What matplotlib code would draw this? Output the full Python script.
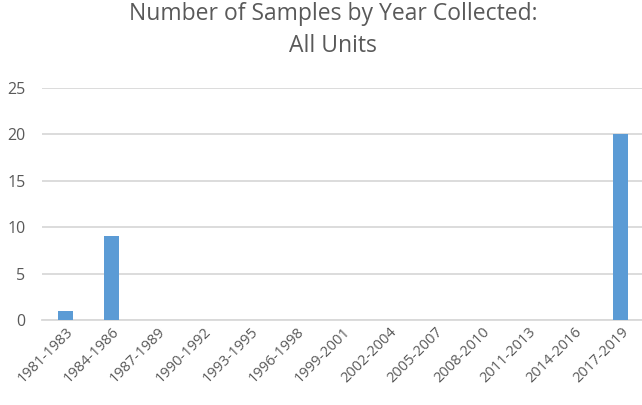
import numpy as np
import matplotlib.pyplot as plt

# sample counts per three-year collection window
periods = ["1981-1983", "1984-1986", "1987-1989", "1990-1992", "1993-1995",
           "1996-1998", "1999-2001", "2002-2004", "2005-2007", "2008-2010",
           "2011-2013", "2014-2016", "2017-2019"]
samples = [1, 9, 0, 0, 0, 0, 0, 0, 0, 0, 0, 0, 20]
yticks = [0, 5, 10, 15, 20, 25]

plt.rcParams['font.family'] = ['Open Sans', 'DejaVu Sans']

W, H = 642, 405
fig = plt.figure(figsize=(W / 100, H / 100), dpi=100)
ax = fig.add_axes([42 / W, 1 - 320 / H, 602 / W, 232 / H])

x = np.arange(len(periods))
ax.bar(x, samples, width=0.32, color="#5B9BD5", zorder=3)

ax.set_xlim(-0.5, len(periods) - 0.5)
ax.set_ylim(0, 25)
ax.set_yticks(yticks)
ax.yaxis.grid(True, color="#D9D9D9", linewidth=1.3, zorder=0)
for s in ["top", "right", "left"]:
    ax.spines[s].set_visible(False)
ax.spines["bottom"].set_color("#D9D9D9")
ax.spines["bottom"].set_linewidth(1.3)
ax.tick_params(axis="both", length=0, colors="#595959")
ax.tick_params(axis="x", labelsize=10.5)
ax.tick_params(axis="y", labelsize=11.5, pad=12)
ax.set_xticks(x)
ax.set_xticklabels(periods, rotation=45, ha="right", rotation_mode="anchor")

fig.text(333 / W, 1 - 30 / H, "Number of Samples by Year Collected:\nAll Units",
         ha="center", va="center", fontsize=16.5, color="#595959", linespacing=1.45)

fig.savefig("out.png", dpi=100)
